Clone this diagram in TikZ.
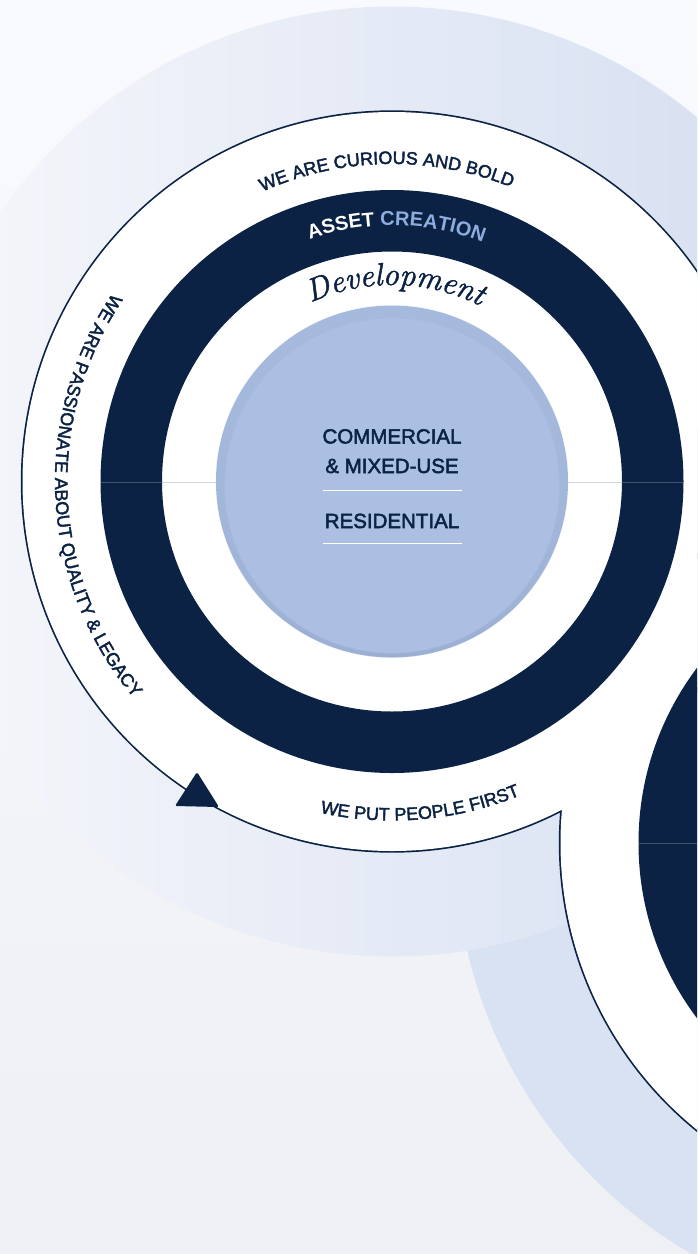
\documentclass[tikz,border=0pt]{standalone}
\usepackage{fontspec}
\setsansfont{Liberation Sans}
\newfontfamily\ringfont[FakeBold=2.2]{Liberation Sans}
\newfontfamily\corefont[FakeBold=2.4]{Liberation Sans}
\newfontfamily\devfam[FakeBold=1.6]{Latin Modern Roman}
\usetikzlibrary{decorations.text,positioning}
\definecolor{navy}{HTML}{0B2244}
\definecolor{creation}{HTML}{8EADDE}
\definecolor{core}{HTML}{AABFE2}
\definecolor{pagetop}{HTML}{F9FAFD}
\definecolor{pagebot}{HTML}{EEF0F4}
\definecolor{halol}{HTML}{F6F7FB}
\definecolor{halor}{HTML}{D3DDF0}
\definecolor{halo}{HTML}{D9E2F3}
\newcommand\valuefont{\ringfont\fontsize{18}{18}\selectfont\color{navy}}
\newcommand\assetfont{\sffamily\bfseries\fontsize{20}{20}\selectfont}
\newcommand\devfont{\devfam\itshape\fontsize{32}{32}\selectfont\color{navy}}

\begin{document}
\begin{tikzpicture}[x=1pt,y=1pt,
    outline/.style={draw=navy, line width=3.4},
    splitline/.style={draw=navy!45!white, opacity=0.4, line width=0.8},
    arctext/.style={decorate, decoration={text along path, text align=center, text={#1}}},
    sector/.style={font=\corefont\fontsize{20.5}{20.5}\selectfont, text=navy, anchor=base, inner sep=0pt},
    divider/.style={white, line width=1.2}
]
\useasboundingbox (0,0) rectangle (697,-1254);
\clip (0,0) rectangle (697,-1254);

\coordinate (c1) at (392,-481.5);
\coordinate (c2) at (930,-843);

% background
\fill[top color=pagetop, bottom color=pagebot] (0,0) rectangle (697,-1254);
\fill[halo] (c2) circle (475);
\shade[left color=halol, right color=halor] (c1) circle (475);

% white rings with outline
\draw[outline] (c1) circle (369.5) (c2) circle (369.5);
\fill[white] (c1) circle (369.5) (c2) circle (369.5);

% navy rings
\fill[navy, even odd rule] (c1) circle (291.5) circle (230);
\fill[navy, even odd rule] (c2) circle (291.5) circle (230);
\draw[splitline] (100,-482) -- (684,-482);
\draw[splitline] (638,-843) -- (697,-843);

% core
\fill[core] (c1) circle (176);
\foreach \i in {0,...,9}
  \draw[navy, opacity=0.025, line width=1.6] ([yshift=-\i*0.45pt]c1) circle[radius=176-\i*0.9];

% texts on the rings
\path[arctext={|\valuefont|WE ARE CURIOUS AND BOLD}]
  (c1) ++(165:317.5) arc[start angle=165, end angle=17, radius=317.5];
\path[arctext={|\assetfont\color{white}|ASSET |\assetfont\color{creation}|CREATION}]
  (c1) ++(150:256) arc[start angle=150, end angle=28, radius=256];
\path[arctext={|\devfont|Development}]
  (c1) ++(150:196.5) arc[start angle=150, end angle=28, radius=196.5];
\path[arctext={|\valuefont|WE ARE PASSIONATE ABOUT QUALITY {\&} LEGACY}]
  (c1) ++(130:337) arc[start angle=130, end angle=236, radius=337];
\path[arctext={|\valuefont|WE PUT PEOPLE FIRST}]
  (c1) ++(245:339) arc[start angle=245, end angle=305, radius=339];

% core labels
\node[sector] (commercial) at (392,-443.5) {COMMERCIAL};
\node[sector] (mixed) at (392,-473) {\& MIXED-USE};
\node[sector] (residential) at (392,-528) {RESIDENTIAL};
\draw[divider] (323,-490.5) -- (462,-490.5);
\draw[divider] (323,-543.5) -- (462,-543.5);

% arrow head
\fill[navy, rounded corners=1.5] (197,-772) -- (219,-807) -- (175,-806) -- cycle;
\end{tikzpicture}
\end{document}
